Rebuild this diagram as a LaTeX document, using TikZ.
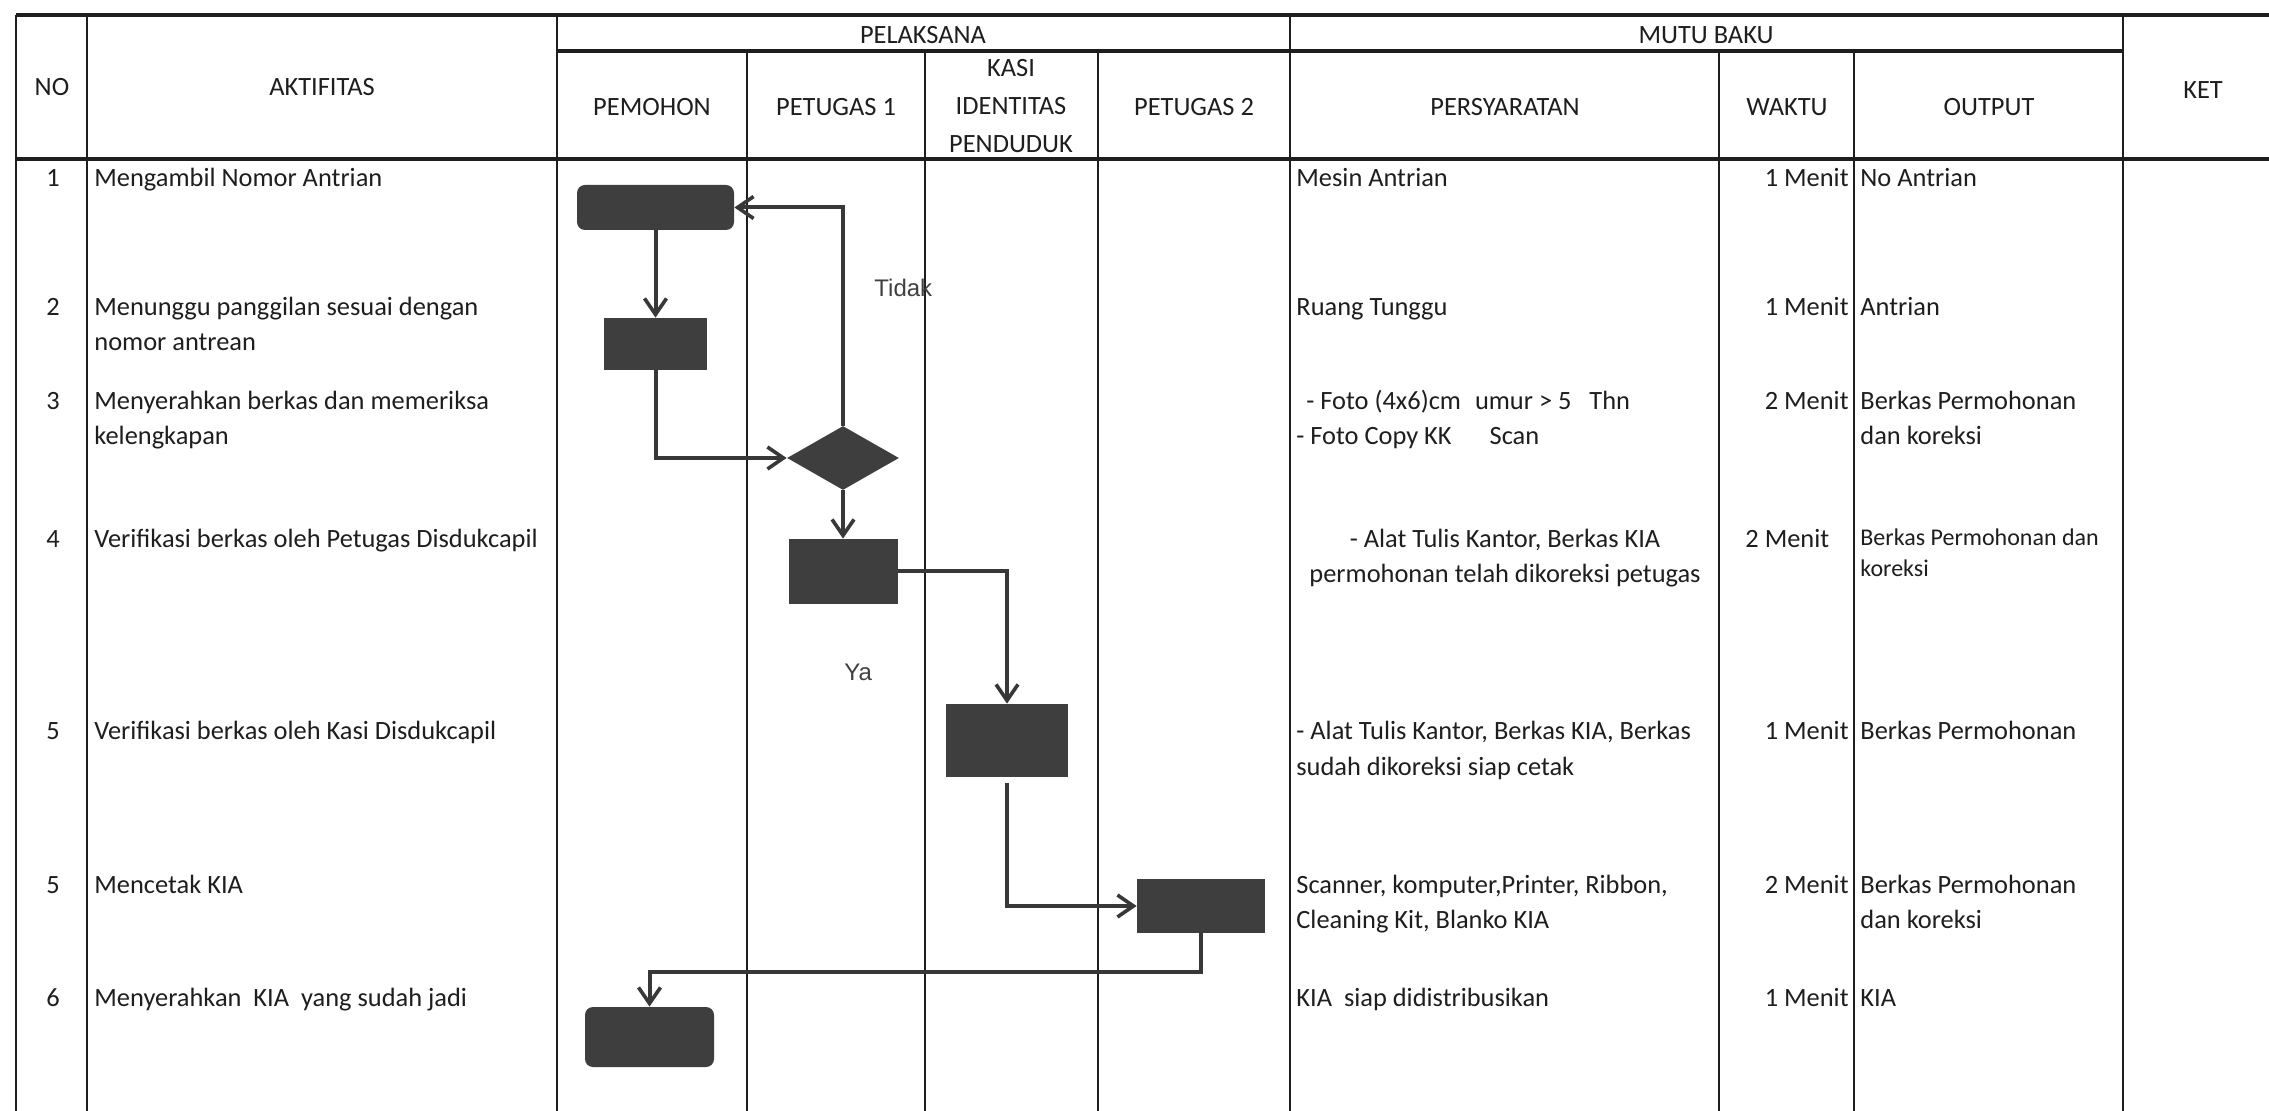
\documentclass[tikz,border=0pt]{standalone}
\usepackage{fontspec}
\setmainfont{Carlito}
\newfontfamily\labelfont{Liberation Sans}
\usetikzlibrary{arrows.meta,shapes.geometric}
\definecolor{ink}{HTML}{1E1E1E}
\definecolor{boxfill}{HTML}{3E3E3E}
\definecolor{flow}{HTML}{383838}
\newcommand{\bodyfont}{\fontsize{13.2}{17.5}\selectfont}
\newcommand{\smallbody}{\fontsize{12}{15.5}\selectfont}
\begin{document}
\begin{tikzpicture}[x=0.5pt,y=-0.5pt,
  vgrid/.style={line width=1.3pt, draw=ink},
  hgrid/.style={line width=1.7pt, draw=ink},
  txt/.style={anchor=base west, inner sep=0pt, align=left, font=\bodyfont, text=ink},
  ctxt/.style={anchor=base, inner sep=0pt, align=center, font=\bodyfont, text=ink},
  rtxt/.style={anchor=base east, inner sep=0pt, align=right, font=\bodyfont, text=ink},
  lbl/.style={anchor=base west, inner sep=0pt, font=\labelfont\fontsize{12}{14}\selectfont, text=ink!85},
  procbox/.style={rectangle, fill=boxfill, draw=none, inner sep=0pt},
  roundbox/.style={rectangle, rounded corners=4pt, fill=boxfill, draw=none, inner sep=0pt},
  decision/.style={diamond, fill=boxfill, draw=none, inner sep=0pt},
  flowline/.style={draw=flow, line width=2pt, -{Straight Barb[length=8pt,width=11pt,line width=1.8pt]}},
  plainflow/.style={draw=flow, line width=2pt}
]
\fill[white] (0,0) rectangle (2269,1111);
\useasboundingbox (0,0) rectangle (2269,1111);

% ---------- table grid ----------
\draw[hgrid] (16,15) -- (2269,15);
\draw[hgrid] (557,51) -- (2123,51);
\draw[hgrid] (16,159) -- (2269,159);
\foreach \xx in {16,87,557,1290,2123} \draw[vgrid] (\xx,15) -- (\xx,1111);
\foreach \xx in {747,925,1098,1719,1854} \draw[vgrid] (\xx,51) -- (\xx,1111);

% ---------- header ----------
\node[ctxt] (hpel) at (923,44) {PELAKSANA};
\node[ctxt] (hmutu) at (1706,44) {MUTU BAKU};
\node[ctxt] (hno) at (52,96) {NO};
\node[ctxt] (hakt) at (322,96) {AKTIFITAS};
\node[ctxt] (hpem) at (652,116) {PEMOHON};
\node[ctxt] (hpet1) at (836,116) {PETUGAS 1};
\node[ctxt, font=\fontsize{13.2}{19}\selectfont] (hkasi) at (1011,153) {KASI\\IDENTITAS\\PENDUDUK};
\node[ctxt] (hpet2) at (1194,116) {PETUGAS 2};
\node[ctxt] (hpers) at (1505,116) {PERSYARATAN};
\node[ctxt] (hwak) at (1787,116) {WAKTU};
\node[ctxt] (hout) at (1989,116) {OUTPUT};
\node[ctxt] (hket) at (2203,99) {KET};

% ---------- row numbers ----------
\node[ctxt] (n1) at (53,187) {1};
\node[ctxt] (n2) at (53,316) {2};
\node[ctxt] (n3) at (53,410) {3};
\node[ctxt] (n4) at (53,548) {4};
\node[ctxt] (n5) at (53,740) {5};
\node[ctxt] (n5b) at (53,893) {5};
\node[ctxt] (n6) at (53,1006) {6};

% ---------- activities (multi-line nodes: anchor at last baseline) ----------
\node[txt] (a1) at (94,187) {Mengambil Nomor Antrian};
\node[txt] (a2) at (94,351) {Menunggu panggilan sesuai dengan\\nomor antrean};
\node[txt] (a3) at (94,445) {Menyerahkan berkas dan memeriksa\\kelengkapan};
\node[txt] (a4) at (94,548) {Verifikasi berkas oleh Petugas Disdukcapil};
\node[txt] (a5) at (94,740) {Verifikasi berkas oleh Kasi Disdukcapil};
\node[txt] (a5b) at (94,893) {Mencetak KIA};
\node[txt] (a6) at (94,1006) {Menyerahkan\hspace{3pt} KIA\hspace{3pt} yang sudah jadi};

% ---------- persyaratan ----------
\node[txt] (p1) at (1296,187) {Mesin Antrian};
\node[txt] (p2) at (1296,316) {Ruang Tunggu};
\node[txt] (p3) at (1296,445) {\hspace{5pt}- Foto (4x6)cm\hspace{4pt} umur > 5\hspace{6pt} Thn\\- Foto Copy KK\hspace{16pt} Scan};
\node[ctxt] (p4) at (1505,583) {- Alat Tulis Kantor, Berkas KIA\\permohonan telah dikoreksi petugas};
\node[txt] (p5) at (1296,775) {- Alat Tulis Kantor, Berkas KIA, Berkas\\sudah dikoreksi siap cetak};
\node[txt] (p5b) at (1296,928) {Scanner, komputer,Printer, Ribbon,\\Cleaning Kit, Blanko KIA};
\node[txt] (p6) at (1296,1006) {KIA\hspace{3pt} siap didistribusikan};

% ---------- waktu ----------
\node[rtxt] (w1) at (1849,187) {1 Menit};
\node[rtxt] (w2) at (1849,316) {1 Menit};
\node[rtxt] (w3) at (1849,410) {2 Menit};
\node[txt] (w4) at (1745,548) {2 Menit};
\node[rtxt] (w5) at (1849,740) {1 Menit};
\node[rtxt] (w5b) at (1849,893) {2 Menit};
\node[rtxt] (w6) at (1849,1006) {1 Menit};

% ---------- output ----------
\node[txt] (o1) at (1860,187) {No Antrian};
\node[txt] (o2) at (1860,316) {Antrian};
\node[txt] (o3) at (1860,445) {Berkas Permohonan\\dan koreksi};
\node[txt, font=\smallbody] (o4) at (1860,577) {Berkas Permohonan dan\\koreksi};
\node[txt] (o5) at (1860,740) {Berkas Permohonan};
\node[txt] (o5b) at (1860,928) {Berkas Permohonan\\dan koreksi};
\node[txt] (o6) at (1860,1006) {KIA};

% ---------- flow shapes ----------
\node[roundbox, minimum width=78.5pt, minimum height=22.5pt] (bA) at (655.5,207.5) {};
\node[procbox, minimum width=51.5pt, minimum height=26pt] (bB) at (655.5,344) {};
\node[decision, minimum width=56pt, minimum height=32pt] (dia) at (843,458) {};
\node[procbox, minimum width=54.5pt, minimum height=32.5pt] (bC) at (843,571.5) {};
\node[procbox, minimum width=61pt, minimum height=36.5pt] (bD) at (1007,740.5) {};
\node[procbox, minimum width=64pt, minimum height=27pt] (bE) at (1201,906) {};
\node[roundbox, minimum width=64.5pt, minimum height=30pt] (bF) at (649.5,1037) {};
\coordinate (kbend) at (649.5,972);

% ---------- labels ----------
\node[lbl] (ltidak) at (874,297) {Tidak};
\node[lbl] (lya) at (844,681) {Ya};

% ---------- connectors ----------
\draw[flowline] (bA.south) -- (bB.north);
\draw[flowline] (bB.south) |- (dia.west);
\draw[flowline] (dia.north) |- (bA.east);
\draw[flowline] (dia.south) -- (bC.north);
\draw[flowline] (bC.east) -| (bD.north);
\draw[flowline, shorten <=3pt] (bD.south) |- (bE.west);
\draw[flowline] (bE.south) |- (kbend) -- (bF.north);
\end{tikzpicture}
\end{document}
